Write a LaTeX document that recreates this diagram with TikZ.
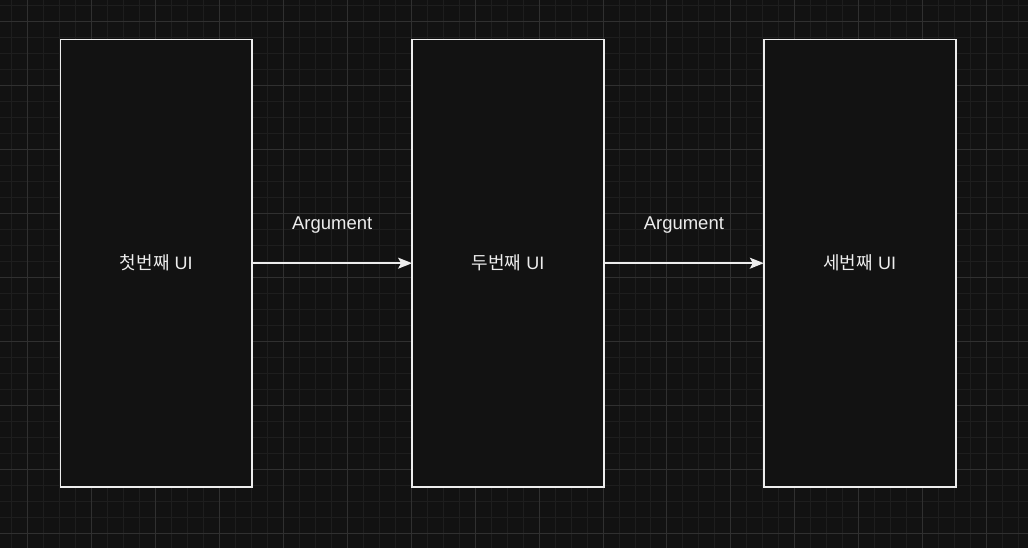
\documentclass[tikz,border=0pt]{standalone}
\usepackage{fontspec}
\setmainfont{Liberation Sans}
\newfontfamily\krfont{Noto Sans CJK KR}
\usetikzlibrary{arrows.meta,positioning}
\definecolor{canvas}{HTML}{121212}
\definecolor{minorgrid}{HTML}{1E1E1E}
\definecolor{majorgrid}{HTML}{303030}
\definecolor{edge}{HTML}{EDEDED}

\begin{document}
\begin{tikzpicture}[x=1pt,y=1pt,
    screen/.style={draw=edge,line width=1.7pt,fill=canvas,outer sep=0pt,minimum width=192pt,minimum height=448pt,
      text=edge,font=\fontsize{18}{22}\selectfont},
    pass/.style={draw=edge,line width=1.5pt,-{Stealth[length=14pt,width=11pt,inset=3pt]}},
    tag/.style={text=edge,font=\fontsize{18.5}{22}\selectfont}]
    % Background and grid
    \fill[canvas] (0,0) rectangle (1028,548);
    \draw[minorgrid,line width=0.8pt,shift={(27,15)},step=16pt] (-27,-15) grid (1001,533);
    \draw[majorgrid,line width=0.8pt,shift={(27,15)},step=64pt] (-27,-15) grid (1001,533);
    \useasboundingbox (0,0) rectangle (1028,548);

    % Screens
    \node[screen] (first) at (156,285) {{\krfont 첫번째} UI};
    \node[screen,right=160pt of first] (second) {{\krfont 두번째} UI};
    \node[screen,right=160pt of second] (third) {{\krfont 세번째} UI};

    % Arguments
    \draw[pass] (first) -- node[tag,midway,yshift=38pt] {Argument} (second);
    \draw[pass] (second) -- node[tag,midway,yshift=38pt] {Argument} (third);
\end{tikzpicture}
\end{document}
